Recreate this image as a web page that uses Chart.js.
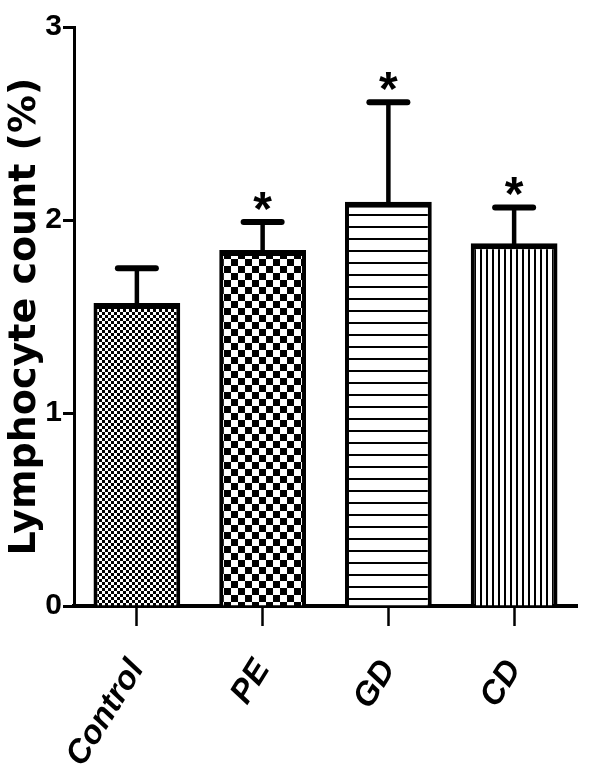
<!DOCTYPE html>
<html>
<head>
<meta charset="utf-8">
<script src="https://cdn.jsdelivr.net/npm/chart.js@4.4.1/dist/chart.umd.min.js"></script>
<style>
  html, body { margin: 0; padding: 0; background: #ffffff; }
  #c { display: block; }
</style>
</head>
<body>
<canvas id="c" width="600" height="782"></canvas>
<script>
// ---- data ----
const categories = ["Control", "PE", "GD", "CD"];
const meanValues = [1.57, 1.845, 2.095, 1.88];
const errorTops = [1.75, 1.99, 2.61, 2.065];
const significance = ["", "*", "*", "*"];
const yTicks = [0, 1, 2, 3];
const yTitle = "Lymphocyte count (%)";

// ---- fill patterns ----
function makePattern(kind) {
  const p = document.createElement('canvas');
  const ctx = p.getContext('2d');
  if (kind === 'fineChecker') {
    p.width = 6; p.height = 6;
    ctx.fillStyle = '#fff'; ctx.fillRect(0, 0, 6, 6);
    ctx.fillStyle = '#000';
    ctx.fillRect(0, 0, 3, 3); ctx.fillRect(3, 3, 3, 3);
  } else if (kind === 'coarseChecker') {
    p.width = 14; p.height = 14;
    ctx.fillStyle = '#fff'; ctx.fillRect(0, 0, 14, 14);
    ctx.fillStyle = '#000';
    ctx.fillRect(0, 0, 7, 7); ctx.fillRect(7, 7, 7, 7);
  } else if (kind === 'hlines') {
    p.width = 12; p.height = 12;
    ctx.fillStyle = '#fff'; ctx.fillRect(0, 0, 12, 12);
    ctx.fillStyle = '#000'; ctx.fillRect(0, 10, 12, 2);
  } else if (kind === 'vlines') {
    p.width = 6; p.height = 6;
    ctx.fillStyle = '#fff'; ctx.fillRect(0, 0, 6, 6);
    ctx.fillStyle = '#000'; ctx.fillRect(0, 0, 2, 6);
  }
  return document.getElementById('c').getContext('2d').createPattern(p, 'repeat');
}
const fills = [makePattern('fineChecker'), makePattern('coarseChecker'), makePattern('hlines'), makePattern('vlines')];

const errorBarPlugin = {
  id: 'errorBars',
  afterDatasetsDraw(chart) {
    const ctx = chart.ctx;
    const meta = chart.getDatasetMeta(0);
    const y = chart.scales.y;
    ctx.save();
    ctx.strokeStyle = '#000';
    ctx.fillStyle = '#000';
    meta.data.forEach((bar, i) => {
      const x = bar.x;
      const yTop = y.getPixelForValue(meanValues[i]);
      const yErr = y.getPixelForValue(errorTops[i]);
      ctx.lineCap = 'butt';
      ctx.lineWidth = 4.5;
      ctx.beginPath(); ctx.moveTo(x, yTop + 2); ctx.lineTo(x, yErr); ctx.stroke();
      ctx.lineCap = 'round';
      ctx.lineWidth = 6;
      ctx.beginPath(); ctx.moveTo(x - 19, yErr); ctx.lineTo(x + 19, yErr); ctx.stroke();
      if (significance[i]) {
        ctx.font = 'bold 48px "Liberation Sans", Arial, sans-serif';
        ctx.textAlign = 'center';
        ctx.textBaseline = 'alphabetic';
        ctx.fillText(significance[i], x, yErr + 3);
      }
    });
    ctx.restore();
  }
};

new Chart(document.getElementById('c'), {
  type: 'bar',
  data: {
    labels: categories,
    datasets: [{
      data: meanValues,
      backgroundColor: fills,
      borderColor: '#000',
      borderWidth: { top: 6, left: 4, right: 4, bottom: 0 },
      borderSkipped: false,
      barPercentage: 0.69,
      categoryPercentage: 1.0
    }]
  },
  options: {
    responsive: false,
    animation: false,
    devicePixelRatio: 1,
    layout: { padding: { top: 27, right: 23, left: 0, bottom: 0 } },
    plugins: { legend: { display: false }, tooltip: { enabled: false } },
    scales: {
      x: {
        offset: true,
        afterFit(s) { s.height = 176; },
        border: { display: true, color: '#000', width: 4 },
        grid: { display: true, drawOnChartArea: false, drawTicks: true, tickLength: 20, tickWidth: 2.5, tickColor: '#000', offset: false },
        ticks: {
          color: '#000',
          minRotation: 58, maxRotation: 58,
          padding: 27,
          font: { family: '"Liberation Sans", Arial, sans-serif', size: 33, weight: 'bold', style: 'italic' }
        }
      },
      y: {
        min: 0, max: 3,
        afterFit(s) { s.width = 74; },
        afterBuildTicks(s) { s.ticks = yTicks.map(v => ({ value: v })); },
        border: { display: true, color: '#000', width: 3 },
        grid: { display: true, drawOnChartArea: false, drawTicks: true, tickLength: 11, tickWidth: 3, tickColor: '#000' },
        ticks: {
          color: '#000',
          padding: 1,
          font: { family: '"Liberation Sans", Arial, sans-serif', size: 30, weight: 'bold' }
        },
        title: {
          display: true,
          text: yTitle,
          color: '#000',
          padding: { top: 2, bottom: 0 },
          font: { family: '"DejaVu Sans", sans-serif', size: 38, weight: 'bold' }
        }
      }
    }
  },
  plugins: [errorBarPlugin]
});
</script>
</body>
</html>
